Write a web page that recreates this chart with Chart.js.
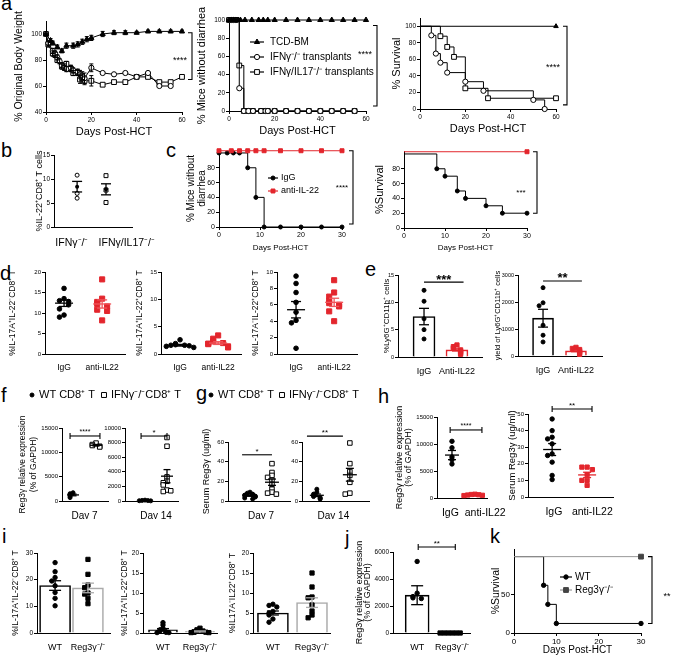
<!DOCTYPE html>
<html>
<head>
<meta charset="utf-8">
<title>IL-22 / Reg3γ figure</title>
<script src="https://cdn.jsdelivr.net/npm/chart.js@4.4.1/dist/chart.umd.min.js"></script>
<style>
  body { margin: 0; width: 675px; height: 657px; position: relative; overflow: hidden; background: #fff;
         font-family: "Liberation Sans", Arial, sans-serif; }
  canvas { position: absolute; }
  .tag { position: absolute; font-size: 20px; line-height: 20px; color: #000; }
</style>
</head>
<body>
<div class="tag" style="left:1px;top:-7px">a</div>
<div class="tag" style="left:1px;top:140px">b</div>
<div class="tag" style="left:166px;top:140px">c</div>
<div class="tag" style="left:0px;top:263px">d</div>
<div class="tag" style="left:365px;top:259px">e</div>
<div class="tag" style="left:1px;top:385px">f</div>
<div class="tag" style="left:196px;top:383px">g</div>
<div class="tag" style="left:378px;top:386px">h</div>
<div class="tag" style="left:2px;top:526px">i</div>
<div class="tag" style="left:345px;top:528px">j</div>
<div class="tag" style="left:490px;top:526px">k</div>
<script>
// ---------- values ----------
// a: body weight
const bwDaysTcd = [0, 2, 3, 5, 7, 9, 12, 14, 16, 18, 20, 25, 30, 35, 40, 45, 50, 55, 60];
const bwTcd     = [100, 95, 93, 90, 87, 91, 91, 92, 94, 96, 97, 100, 101, 101, 101, 102, 102, 102, 102];
const bwTcdErr  = [0, 1.5, 1.5, 1.5, 1.5, 2, 2, 2, 2, 2, 2, 2, 1.5, 1.5, 1, 1, 1, 1, 1];
const bwDaysIfn = [0, 1, 3, 4, 5, 6, 7, 8, 9, 11, 12, 14, 15, 16, 17, 20, 25, 30, 35, 40, 45, 50, 55];
const bwIfn     = [100, 93, 87, 85, 82, 79, 76, 74, 73, 74, 72, 71, 69, 68, 66, 74, 70, 69, 70, 67, 70, 60, 60];
const bwIfnErr  = [0, 1.5, 2, 2, 2, 2, 2, 2, 2, 2, 2, 2, 3, 3, 4, 3, 0, 0, 0, 0, 0, 0, 0];
const bwDaysDko = [0, 1, 3, 4, 5, 7, 8, 9, 11, 12, 14, 15, 16, 17, 20, 25, 30, 35, 40, 45, 50, 55, 60];
const bwDko     = [100, 92, 85, 84, 80, 75, 75, 77, 73, 70, 70, 65, 66, 64, 64, 61, 63, 63, 67, 67, 63, 63, 67];
const bwDkoErr  = [0, 2, 2, 2, 2, 2, 2, 2, 2, 2, 2, 3, 3, 3, 4, 0, 0, 0, 0, 0, 0, 0, 0];
// a: mice without diarrhea
const dDaysTcd = [0, 1, 2, 3, 4, 5, 7, 10, 13, 15, 17, 20, 25, 30, 35, 40, 45, 50, 55, 60];
const dTcd     = [100, 100, 100, 100, 100, 100, 100, 100, 100, 100, 100, 100, 100, 100, 100, 100, 100, 100, 100, 100];
const dDaysIfn = [0, 1, 2, 3, 4.5, 6.5, 8.5, 10.5, 14, 16, 17, 20, 25, 30, 35, 40, 45, 50, 55];
const dIfn     = [100, 100, 100, 100, 25, 0, 0, 0, 0, 0, 0, 0, 0, 0, 0, 0, 0, 0, 0];
const dDaysDko = [0, 1, 2, 3, 4.5, 6.5, 8.5, 10.5, 14, 16, 17, 20, 25, 30, 35, 40, 45, 50, 55];
const dDko     = [100, 100, 100, 100, 50, 0, 0, 0, 0, 0, 0, 0, 0, 0, 0, 0, 0, 0, 0];
// a: survival
const sDaysTcd = [0, 60];
const sTcd     = [100, 100];
const sDaysIfn = [0, 5, 7, 9, 12, 20, 28, 50, 55];
const sIfn     = [100, 89, 67, 56, 44, 33, 22, 11, 0];
const sDaysDko = [0, 9, 12, 15, 20, 30, 60];
const sDko     = [100, 88, 75, 63, 25, 13, 13];
// b
const bIfn  = [10.8, 7.0, 6.0];
const bDko  = [10.7, 7.7, 5.1];
const bMean = [8.4, 7.85];
const bSem  = [1.1, 1.15];
// c
const cDaysIgG  = [0, 2, 3.5, 5, 7, 9, 11, 15, 20, 25, 30];
const cIgG      = [100, 100, 100, 100, 80, 40, 0, 0, 0, 0, 0];
const cDaysAnti = [0, 3, 5, 7, 9, 11, 15, 20, 25, 30];
const cAnti     = [103, 103, 103, 103, 103, 103, 103, 103, 103, 103];
const c2DaysIgG  = [0, 8, 10, 13, 15, 20, 24, 30];
const c2IgG      = [100, 80, 70, 50, 40, 30, 20, 20];
const c2DaysAnti = [0, 30];
const c2Anti     = [103, 103];
// d
const d1IgG  = [16.0, 13.5, 13.0, 12.8, 12.0, 11.0, 9.5, 9.0];
const d1Anti = [18.2, 13.5, 12.7, 12.2, 11.6, 10.8, 10.5, 8.2];
const d1Mean = [12.4, 12.2], d1Sem = [0.8, 1.0];
const d2IgG  = [2.6, 1.9, 1.7, 1.6, 1.6, 1.5, 1.4, 1.2];
const d2Anti = [3.4, 2.8, 2.3, 2.0, 1.9, 1.8, 1.4, 1.2];
const d2Mean = [1.6, 2.0], d2Sem = [0.15, 0.25];
const d3IgG  = [9.5, 8.6, 7.5, 6.3, 5.1, 4.1, 3.8, 0.7];
const d3Anti = [9.0, 7.5, 7.0, 6.5, 6.2, 6.0, 5.8, 5.2, 4.0];
const d3Mean = [5.4, 6.3], d3Sem = [1.0, 0.5];
// e
const e1IgG  = [12.2, 10.2, 7.0, 5.0, 3.3];
const e1Anti = [2.2, 1.9, 1.6, 1.3, 1.1, 0.9, 0.7, 0.5];
const e1Mean = [7.4, 1.3], e1Sem = [1.5, 0.2];
const e2IgG  = [2530, 1970, 1860, 1140, 770, 520];
const e2Anti = [320, 280, 240, 190, 150, 110, 60];
const e2Mean = [1400, 190], e2Sem = [330, 30];
// f
const f7Wt  = [1700, 1500, 1300, 1000, 700];
const f7Ko  = [11900, 11600, 11400, 11250, 11100];
const f7Mean = [1250, 11450], f7Sem = [180, 160];
const f14Wt = [120, 80, 60, 40, 20];
const f14Ko = [8700, 7500, 3300, 2700, 2500, 2200, 1500, 1300, 1400];
const f14Mean = [60, 3400], f14Sem = [20, 900];
// g
const g7Wt  = [9, 8, 7, 6.5, 6, 5.5, 5, 4.5, 4, 3, 2];
const g7Ko  = [38, 29, 26, 24, 21, 17, 12, 9, 8, 7];
const g7Mean = [5.5, 19.1], g7Sem = [0.7, 3.2];
const g14Wt = [12, 9, 7, 5.5, 4.5, 3.5, 2.5, 2];
const g14Ko = [59, 38, 30, 26, 19, 8, 7];
const g14Mean = [5.8, 26.7], g14Sem = [1.3, 6.5];
// h
const h1IgG  = [10500, 9300, 7600, 7100, 6300];
const h1Anti = [700, 650, 600, 550, 500, 450];
const h1Mean = [7950, 580], h1Sem = [850, 40];
const h2IgG  = [47, 40, 36, 35, 32, 26, 25, 21, 13, 10.5];
const h2Anti = [18, 18, 16.5, 13.5, 10, 10, 7];
const h2Mean = [28.6, 13.3], h2Sem = [3.6, 1.6];
// i
const i1Wt = [26.4, 23, 20.8, 19.5, 17.7, 15.2, 13, 10.2];
const i1Ko = [27.6, 22, 18, 17, 15, 14.6, 13, 11];
const i1Mean = [17.8, 16.9], i1Sem = [1.8, 1.8];
const i2Wt = [2.6, 2.0, 1.2, 0.8, 0.5, 0.3, 0.2, 0.1, 0.1];
const i2Ko = [1.2, 0.8, 0.6, 0.5, 0.3, 0.2, 0.2, 0.1, 0.1];
const i2Mean = [0.8, 0.4], i2Sem = [0.3, 0.12];
const i3Wt = [7.2, 6.9, 6.5, 5.4, 5.0, 4.5, 3.5, 2.7];
const i3Ko = [15, 11.5, 9, 8.8, 7, 5.5, 4.5, 3.8];
const i3Mean = [5.0, 7.6], i3Sem = [0.5, 1.2];
// j
const jWt = [5300, 2950, 2700, 2600, 2550];
const jKo = [0, 0, 0, 0, 0, 0];
const jMean = [2800, 0], jSem = [700, 0];
// k
const kDaysWt = [0, 7, 8, 10, 30];
const kWt     = [100, 62.5, 37.5, 12.5, 12.5];
const kDaysKo = [0, 30];
const kKo     = [100, 100];

// ---------- helpers ----------
const FONT = '"Liberation Sans", Arial, Helvetica, sans-serif';
const RED = '#e3262d';
Chart.defaults.font.family = FONT;
Chart.defaults.color = '#000';
Chart.defaults.animation = false;
Chart.defaults.responsive = false;
Chart.defaults.plugins.legend.display = false;
Chart.defaults.plugins.tooltip.enabled = false;

const pts = (xs, ys) => xs.map((x, i) => ({x: x, y: ys[i]}));

// spread points with close values sideways (simple beeswarm)
function swarm(vals, cx, step, thr) {
  const out = [];
  vals.forEach(v => {
    const k = out.filter(p => Math.abs(p.y - v) < thr).length;
    const off = k === 0 ? 0 : (k % 2 ? -1 : 1) * Math.ceil(k / 2);
    out.push({x: cx + off * step, y: v});
  });
  return out;
}

function yAxis(min, max, step, o) {
  return {
    type: 'linear', position: 'left', min: min, max: max,
    border: {display: true, color: '#000', width: 1},
    grid: {display: true, drawOnChartArea: false, drawTicks: true, tickLength: 3, color: '#000'},
    ticks: {stepSize: step, font: {size: o.tf || 7}, padding: 1, callback: v => String(v)},
    title: {display: !!o.title, text: o.title, font: {size: o.fs || 10, lineHeight: o.lh || 1.2}, padding: 0},
    afterBuildTicks: s => { if (o.top != null) s.ticks = s.ticks.filter(t => t.value <= o.top); }
  };
}

function xDays(min, max, step, o) {
  return {
    type: 'linear', position: 'bottom', min: min, max: max, offset: false,
    border: {display: true, color: '#000', width: 1},
    grid: {display: true, drawOnChartArea: false, drawTicks: true, tickLength: 3, color: '#000', offset: false},
    ticks: {stepSize: step, font: {size: o.tf || 7}, padding: 1, maxRotation: 0, autoSkip: false, callback: v => String(v)},
    title: {display: true, text: o.title, font: {size: o.fs || 10}, padding: 0}
  };
}

// labels[i].v is where the label sits on the x scale
function xGroups(min, max, labels, o) {
  return {
    type: 'linear', position: 'bottom', min: min, max: max, offset: false,
    border: {display: true, color: '#000', width: 1},
    grid: {display: false, offset: false},
    ticks: {autoSkip: false, maxRotation: 0, font: {size: o.lf || 9}, padding: o.lp || 1,
            callback: (v, i) => labels[i] ? labels[i].t : ''},
    afterBuildTicks: s => { s.ticks = labels.map(l => ({value: l.v})); }
  };
}

function curve(xs, ys, o) {
  const r = o.r || 2.5, n = xs.length;
  let rad = r;
  if (o.marks === 'skipFirst') rad = c => c.dataIndex === 0 ? 0 : r;
  if (o.marks === 'last') rad = c => c.dataIndex === n - 1 ? r : 0;
  return {
    type: 'scatter', data: pts(xs, ys), showLine: true, stepped: o.step ? 'before' : false,
    borderColor: o.color || '#000', borderWidth: o.lw || 1,
    pointStyle: o.style || 'circle', pointRadius: rad,
    pointBackgroundColor: o.fill || o.pc || o.color || '#000',
    pointBorderColor: o.pc || o.color || '#000', pointBorderWidth: 1,
    clip: false, err: o.err
  };
}

function dots(vals, cx, o) {
  const col = o.color || '#000';
  return {
    type: 'scatter', data: swarm(vals, cx, o.step, o.thr), showLine: false,
    pointStyle: o.style || 'circle', pointRadius: o.r || 2.3,
    pointBackgroundColor: o.fill || col, pointBorderColor: col, pointBorderWidth: 1, clip: false
  };
}

function bars(means, colors, thick) {
  return {
    type: 'bar', data: means.map((m, i) => ({x: i + 1, y: m})), order: 5,
    backgroundColor: '#fff', borderColor: colors, borderWidth: 1.6, barThickness: thick
  };
}

function summ(means, sems, colors, hw, cw, extra) {
  return means.map((m, i) => Object.assign({x: i + 1, m: m, e: sems[i], color: colors[i], hw: hw, cw: cw}, extra || {}));
}

// ---------- decoration plugin: error bars, significance marks, keys ----------
const DECO = {};
function seg(ctx, x1, y1, x2, y2) { ctx.beginPath(); ctx.moveTo(x1, y1); ctx.lineTo(x2, y2); ctx.stroke(); }
function txt(ctx, t, x, y, size, align, bold) {
  ctx.font = (bold ? 'bold ' : '') + size + 'px ' + FONT;
  ctx.fillStyle = '#000'; ctx.textAlign = align || 'center'; ctx.textBaseline = 'middle';
  ctx.fillText(t, x, y);
}
function mark(ctx, style, x, y, r, fill, stroke) {
  ctx.beginPath();
  if (style === 'rect') {
    const s = r * Math.SQRT1_2; ctx.rect(x - s, y - s, 2 * s, 2 * s);
  } else if (style === 'triangle') {
    for (let k = 0; k < 3; k++) {
      const a = k * 2 * Math.PI / 3;
      if (k === 0) ctx.moveTo(x + Math.sin(a) * r, y - Math.cos(a) * r);
      else ctx.lineTo(x + Math.sin(a) * r, y - Math.cos(a) * r);
    }
    ctx.closePath();
  } else {
    ctx.arc(x, y, r, 0, Math.PI * 2);
  }
  ctx.fillStyle = fill; ctx.fill();
  ctx.strokeStyle = stroke; ctx.lineWidth = 1; ctx.stroke();
}

Chart.register({
  id: 'deco',
  afterDatasetsDraw(chart) {
    const ctx = chart.ctx, a = chart.chartArea, xs = chart.scales.x, ys = chart.scales.y;
    const d = DECO[chart.canvas.id] || {};
    ctx.save();
    chart.data.datasets.forEach(ds => {
      if (!ds.err) return;
      ctx.strokeStyle = ds.borderColor; ctx.lineWidth = 1;
      ds.data.forEach((p, i) => {
        const e = ds.err[i]; if (!e) return;
        const px = xs.getPixelForValue(p.x), t = ys.getPixelForValue(p.y + e), b = ys.getPixelForValue(p.y - e);
        seg(ctx, px, t, px, b); seg(ctx, px - 2, t, px + 2, t); seg(ctx, px - 2, b, px + 2, b);
      });
    });
    (d.summ || []).forEach(s => {
      ctx.strokeStyle = s.color; ctx.lineWidth = s.lw || 1.3;
      const cx = xs.getPixelForValue(s.x), ym = ys.getPixelForValue(s.m);
      const yt = ys.getPixelForValue(s.m + s.e), yb = ys.getPixelForValue(Math.max(0, s.m - s.e));
      if (s.hw) seg(ctx, cx - s.hw, ym, cx + s.hw, ym);
      if (s.e) {
        seg(ctx, cx, yt, cx, yb);
        seg(ctx, cx - s.cw, yt, cx + s.cw, yt);
        seg(ctx, cx - s.cw, yb, cx + s.cw, yb);
      }
      if (s.dot) { ctx.fillStyle = s.color; ctx.beginPath(); ctx.arc(cx, ym, s.dot, 0, Math.PI * 2); ctx.fill(); }
    });
    (d.sig || []).forEach(s => {
      ctx.strokeStyle = '#000'; ctx.lineWidth = 1.1;
      const fs = s.fs || 9;
      if (s.kind === 'bar') {
        const x1 = xs.getPixelForValue(s.x1), x2 = xs.getPixelForValue(s.x2), y = ys.getPixelForValue(s.y);
        seg(ctx, x1, y, x2, y);
        if (s.tick) { seg(ctx, x1, y - s.tick, x1, y + s.tick); seg(ctx, x2, y - s.tick, x2, y + s.tick); }
        txt(ctx, s.text, (x1 + x2) / 2, y - (s.tdy || 5) + 0.22 * fs, fs, 'center', s.bold);
      } else {
        const x = a.right + s.dx, y1 = ys.getPixelForValue(s.y1), y2 = ys.getPixelForValue(s.y2);
        ctx.beginPath(); ctx.moveTo(x - 4, y1); ctx.lineTo(x, y1); ctx.lineTo(x, y2); ctx.lineTo(x - 4, y2); ctx.stroke();
        txt(ctx, s.text, a.right + s.tx, ys.getPixelForValue(s.ty) + 0.22 * fs, fs, 'center', s.bold);
      }
    });
    (d.keys || []).forEach(k => {
      const x = a.left + k.x, y = a.top + k.y;
      if (k.line) { ctx.strokeStyle = k.lc || k.color; ctx.lineWidth = 1.2; seg(ctx, x - k.line, y, x + k.line, y); }
      mark(ctx, k.style, x, y, k.r, k.fill, k.color);
      txt(ctx, k.text, x + k.tx, y, k.fs, 'left');
    });
    ctx.restore();
  }
});

let nPanel = 0;
function put(box, datasets, x, y, deco) {
  const c = document.createElement('canvas');
  c.id = 'panel' + (nPanel++);
  const w = box.r - box.l + box.ml + box.mr, h = box.b - box.t + box.mt + box.mb;
  c.width = w; c.height = h;
  c.style.left = (box.l - box.ml) + 'px'; c.style.top = (box.t - box.mt) + 'px';
  c.style.width = w + 'px'; c.style.height = h + 'px';
  document.body.appendChild(c);
  DECO[c.id] = deco || {};
  x.afterFit = s => { s.height = box.mb; };
  y.afterFit = s => { s.width = box.ml; };
  return new Chart(c, {
    type: 'scatter',
    data: {datasets: datasets},
    options: {layout: {padding: {left: 0, top: box.mt, right: box.mr, bottom: 0}}, scales: {x: x, y: y}}
  });
}

// ---------- a ----------
put({l: 46, t: 21, r: 182, b: 112, ml: 33, mt: 20, mr: 20, mb: 27},
  [curve(bwDaysTcd, bwTcd, {style: 'triangle', r: 3, err: bwTcdErr}),
   curve(bwDaysIfn, bwIfn, {style: 'circle', r: 2.6, fill: '#fff', err: bwIfnErr}),
   curve(bwDaysDko, bwDko, {style: 'rect', r: 3.4, fill: '#fff', err: bwDkoErr})],
  xDays(0, 60, 20, {title: 'Days Post-HCT', fs: 11, tf: 6.5}),
  yAxis(40, 110, 20, {title: '% Original Body Weight', fs: 10.5, tf: 6.5, top: 100}),
  {sig: [{kind: 'rb', dx: 10, y1: 101, y2: 65, tx: -2, ty: 81.5, text: '****', fs: 9}]});

put({l: 229, t: 20, r: 366, b: 111, ml: 34, mt: 19, mr: 20, mb: 27},
  [curve(dDaysTcd, dTcd, {style: 'triangle', r: 3}),
   curve(dDaysIfn, dIfn, {style: 'circle', r: 2.6, fill: '#fff', step: true}),
   curve(dDaysDko, dDko, {style: 'rect', r: 3.4, fill: '#fff', step: true})],
  xDays(0, 60, 20, {title: 'Days Post-HCT', fs: 11, tf: 6.5}),
  yAxis(0, 100, 20, {title: '% Mice without diarrhea', fs: 11, tf: 6.5}),
  {sig: [{kind: 'rb', dx: 11, y1: 94, y2: 5.5, tx: -1, ty: 63.7, text: '****', fs: 9}],
   keys: [{x: 28, y: 22, style: 'triangle', r: 3, fill: '#000', color: '#000', line: 7, text: 'TCD-BM', tx: 13, fs: 10},
          {x: 28, y: 37, style: 'circle', r: 2.6, fill: '#fff', color: '#000', line: 7, text: 'IFNγ⁻/⁻ transplants', tx: 13, fs: 10},
          {x: 28, y: 52, style: 'rect', r: 3.4, fill: '#fff', color: '#000', line: 7, text: 'IFNγ/IL17⁻/⁻ transplants', tx: 13, fs: 10}]});

put({l: 420, t: 18, r: 556, b: 109, ml: 30, mt: 10, mr: 20, mb: 27},
  [curve(sDaysTcd, sTcd, {style: 'triangle', r: 2.6, step: true, marks: 'last'}),
   curve(sDaysIfn, sIfn, {style: 'circle', r: 2.6, fill: '#fff', step: true, marks: 'skipFirst'}),
   curve(sDaysDko, sDko, {style: 'rect', r: 3.4, fill: '#fff', step: true, marks: 'skipFirst'})],
  xDays(0, 60, 20, {title: 'Days Post-HCT', fs: 11, tf: 6.5}),
  yAxis(0, 110, 20, {title: '% Survival', fs: 11, tf: 6.5, top: 100}),
  {sig: [{kind: 'rb', dx: 11, y1: 100, y2: 5, tx: -3, ty: 53, text: '****', fs: 9}]});

// ---------- b ----------
put({l: 54, t: 155, r: 132, b: 227, ml: 20, mt: 6, mr: 32, mb: 23},
  [dots(bIfn, 1, {style: 'circle', r: 2, fill: '#fff', step: 0.1, thr: 0.5}),
   dots(bDko, 2, {style: 'rect', r: 2.8, fill: '#fff', step: 0.1, thr: 0.5})],
  xGroups(0.2, 2.9, [{v: 0.82, t: 'IFNγ⁻/⁻'}, {v: 2.72, t: 'IFNγ/IL17⁻/⁻'}], {lf: 10.5, lp: 2}),
  yAxis(0, 15, 5, {title: '%IL-22⁺CD8⁺ T cells', fs: 9, tf: 6.5}),
  {summ: summ(bMean, bSem, ['#000', '#000'], 0, 5, {dot: 2})});

// ---------- c ----------
put({l: 219, t: 150, r: 342, b: 227, ml: 33, mt: 6, mr: 22, mb: 26},
  [curve(cDaysAnti, cAnti, {color: RED, style: 'rect', r: 2.8, step: true}),
   curve(cDaysIgG, cIgG, {style: 'circle', r: 2, step: true})],
  xDays(0, 30, 10, {title: 'Days Post-HCT', fs: 8, tf: 7}),
  yAxis(0, 104, 20, {title: ['% Mice without', 'diarrhea'], fs: 10, lh: 1.1, tf: 7, top: 100}),
  {sig: [{kind: 'rb', dx: 11, y1: 103, y2: 4, tx: 0, ty: 55, text: '****', fs: 8}],
   keys: [{x: 54, y: 28, style: 'circle', r: 2, fill: '#000', color: '#000', line: 5, text: 'IgG', tx: 8, fs: 9},
          {x: 54, y: 41, style: 'rect', r: 2.8, fill: RED, color: RED, line: 5, text: 'anti-IL-22', tx: 8, fs: 9}]});

put({l: 404, t: 151, r: 527, b: 228, ml: 31, mt: 6, mr: 20, mb: 25},
  [curve(c2DaysAnti, c2Anti, {color: RED, style: 'rect', r: 2.8, step: true, marks: 'last'}),
   curve(c2DaysIgG, c2IgG, {style: 'circle', r: 2, step: true, marks: 'skipFirst'})],
  xDays(0, 30, 10, {title: 'Days Post-HCT', fs: 8, tf: 7}),
  yAxis(0, 104, 20, {title: '%Survival', fs: 11, tf: 7, top: 100}),
  {sig: [{kind: 'rb', dx: 10, y1: 103, y2: 20, tx: -6, ty: 50, text: '***', fs: 8}]});

// ---------- d ----------
const igLabels = [{v: 1, t: 'IgG'}, {v: 2, t: 'anti-IL22'}];
const dBox = (l, ml) => ({l: l, t: 272, r: l + 80, b: 354, ml: ml, mt: 5, mr: 12, mb: 22});
put(dBox(45, 37),
  [dots(d1IgG, 1, {r: 2.3, step: 0.12, thr: 1.2}),
   dots(d1Anti, 2, {style: 'rect', color: RED, r: 3.6, step: 0.13, thr: 1.2})],
  xGroups(0.5, 2.6, igLabels, {lf: 8.5}),
  yAxis(0, 20, 5, {title: '%IL-17A⁺IL-22⁻CD8⁺ T', fs: 8.5, tf: 6}),
  {summ: summ(d1Mean, d1Sem, ['#000', '#f0565b'], 9, 5)});
put(dBox(161, 26),
  [dots(d2IgG, 1, {r: 2.3, step: 0.12, thr: 0.9}),
   dots(d2Anti, 2, {style: 'rect', color: RED, r: 3.6, step: 0.13, thr: 0.9})],
  xGroups(0.5, 2.6, igLabels, {lf: 8.5}),
  yAxis(0, 15, 5, {title: '%IL-17A⁺IL-22⁺CD8⁺ T', fs: 8.5, tf: 6}),
  {summ: summ(d2Mean, d2Sem, ['#000', '#f0565b'], 9, 5)});
put(dBox(277, 26),
  [dots(d3IgG, 1, {r: 2.3, step: 0.12, thr: 0.6}),
   dots(d3Anti, 2, {style: 'rect', color: RED, r: 3.6, step: 0.13, thr: 0.6})],
  xGroups(0.5, 2.6, igLabels, {lf: 8.5}),
  yAxis(0, 10, 2, {title: '%IL-17A⁻IL-22⁺CD8⁺ T', fs: 8.5, tf: 6}),
  {summ: summ(d3Mean, d3Sem, ['#000', '#f0565b'], 9, 5)});

// ---------- e ----------
const antiLabels = [{v: 1, t: 'IgG'}, {v: 2, t: 'Anti-IL22'}];
put({l: 398, t: 275, r: 482, b: 357, ml: 16, mt: 8, mr: 12, mb: 22},
  [bars(e1Mean, ['#000', RED], 22),
   dots(e1IgG, 1, {r: 2, step: 0.12, thr: 0.8}),
   dots(e1Anti, 2, {style: 'rect', color: RED, r: 3, step: 0.11, thr: 0.6})],
  xGroups(0.21, 2.76, antiLabels, {lf: 9}),
  yAxis(0, 15, 5, {title: '%Ly6G⁺CD11b⁺ cells', fs: 8, tf: 5.5}),
  {summ: summ(e1Mean, e1Sem, ['#000', RED], 0, 5),
   sig: [{kind: 'bar', x1: 1, x2: 2.2, y: 13.7, text: '***', fs: 13, bold: true, tdy: 5}]});
put({l: 518, t: 275, r: 602, b: 356, ml: 25, mt: 8, mr: 12, mb: 22},
  [bars(e2Mean, ['#000', RED], 21),
   dots(e2IgG, 1, {r: 2, step: 0.12, thr: 150}),
   dots(e2Anti, 2, {style: 'rect', color: RED, r: 3, step: 0.11, thr: 120})],
  xGroups(0.24, 2.79, antiLabels, {lf: 9}),
  yAxis(0, 3000, 1000, {title: 'yield of Ly6G⁺CD11b⁺ cells', fs: 7.5, tf: 5.5}),
  {summ: summ(e2Mean, e2Sem, ['#000', RED], 0, 5),
   sig: [{kind: 'bar', x1: 1, x2: 2.18, y: 2780, text: '**', fs: 13, bold: true, tdy: 5}]});

// ---------- f ----------
put({l: 62, t: 428, r: 108, b: 501, ml: 44, mt: 40, mr: 112, mb: 18},
  [dots(f7Wt, 1, {r: 2, step: 0.13, thr: 400}),
   dots(f7Ko, 2, {style: 'rect', fill: '#fff', r: 3.2, step: 0.16, thr: 400})],
  xGroups(0.52, 2.52, [{v: 1.5, t: 'Day 7'}], {lf: 10, lp: 1}),
  yAxis(0, 15000, 5000, {title: ['Reg3γ relative expression', '(% of GAPDH)'], fs: 8.5, lh: 1.2, tf: 6}),
  {summ: summ(f7Mean, f7Sem, ['#000', '#000'], 6, 3.5),
   sig: [{kind: 'bar', x1: 0.87, x2: 2.17, y: 13360, tick: 3, text: '****', fs: 7, tdy: 5}],
   keys: [{x: -30, y: -33, style: 'circle', r: 2, fill: '#000', color: '#000', text: 'WT CD8⁺ T', tx: 7, fs: 11},
          {x: 42, y: -33, style: 'rect', r: 3.5, fill: '#fff', color: '#000', text: 'IFNγ⁻/⁻CD8⁺ T', tx: 7, fs: 11}]});
put({l: 125, t: 428, r: 178, b: 501, ml: 28, mt: 10, mr: 12, mb: 18},
  [dots(f14Wt, 1, {r: 2, step: 0.13, thr: 300}),
   dots(f14Ko, 2, {style: 'rect', fill: '#fff', r: 3.2, step: 0.17, thr: 500})],
  xGroups(0.09, 2.5, [{v: 1.5, t: 'Day 14'}], {lf: 10, lp: 1}),
  yAxis(0, 10000, 2000, {tf: 6}),
  {summ: summ(f14Mean, f14Sem, ['#000', '#000'], 6, 3.5),
   sig: [{kind: 'bar', x1: 0.82, x2: 2.0, y: 8900, tick: 3, text: '*', fs: 8, tdy: 5}]});

// ---------- g ----------
put({l: 228, t: 442, r: 290, b: 501, ml: 27, mt: 56, mr: 90, mb: 18},
  [dots(g7Wt, 1, {r: 2, step: 0.12, thr: 2.5}),
   dots(g7Ko, 2, {style: 'rect', fill: '#fff', r: 3.2, step: 0.2, thr: 3})],
  xGroups(0, 2.82, [{v: 1.5, t: 'Day 7'}], {lf: 10, lp: 1}),
  yAxis(0, 60, 20, {title: 'Serum Reg3γ (ug/ml)', fs: 9, tf: 6}),
  {summ: summ(g7Mean, g7Sem, ['#000', '#000'], 7, 4),
   sig: [{kind: 'bar', x1: 0.64, x2: 2.0, y: 47, text: '*', fs: 8, tdy: 5}],
   keys: [{x: -17, y: -47, style: 'circle', r: 2, fill: '#000', color: '#000', text: 'WT CD8⁺ T', tx: 7, fs: 11},
          {x: 54, y: -47, style: 'rect', r: 3.5, fill: '#fff', color: '#000', text: 'IFNγ⁻/⁻CD8⁺ T', tx: 7, fs: 11}]});
put({l: 302, t: 442, r: 369, b: 501, ml: 22, mt: 16, mr: 10, mb: 18},
  [dots(g14Wt, 1, {r: 2, step: 0.1, thr: 2.5}),
   dots(g14Ko, 2, {style: 'rect', fill: '#fff', r: 3.2, step: 0.14, thr: 3})],
  xGroups(0.55, 2.58, [{v: 1.5, t: 'Day 14'}], {lf: 10, lp: 1}),
  yAxis(0, 60, 20, {tf: 6}),
  {summ: summ(g14Mean, g14Sem, ['#000', '#000'], 7, 4),
   sig: [{kind: 'bar', x1: 0.7, x2: 1.79, y: 66, text: '**', fs: 8, tdy: 5}]});

// ---------- h ----------
put({l: 437, t: 417, r: 487, b: 498, ml: 42, mt: 16, mr: 22, mb: 20},
  [dots(h1IgG, 1, {r: 2.2, step: 0.15, thr: 500}),
   dots(h1Anti, 2, {style: 'rect', color: RED, r: 3, step: 0.16, thr: 300})],
  xGroups(0.35, 2.52, [{v: 0.93, t: 'IgG'}, {v: 2.44, t: 'anti-IL22'}], {lf: 10.5, lp: 1}),
  yAxis(0, 15000, 5000, {title: ['Reg3γ relative expression', '(% of GAPDH)'], fs: 9, lh: 1.0, tf: 6}),
  {summ: summ(h1Mean, h1Sem, ['#000', RED], 7, 4),
   sig: [{kind: 'bar', x1: 0.92, x2: 2.3, y: 12600, tick: 3, text: '****', fs: 7, tdy: 5}]});
put({l: 528, t: 414, r: 613, b: 497, ml: 21, mt: 16, mr: 12, mb: 20},
  [dots(h2IgG, 1, {r: 2.2, step: 0.13, thr: 2}),
   dots(h2Anti, 2, {style: 'rect', color: RED, r: 3, step: 0.15, thr: 2})],
  xGroups(0.31, 2.74, [{v: 1.05, t: 'IgG'}, {v: 2.15, t: 'anti-IL22'}], {lf: 10.5, lp: 1}),
  yAxis(0, 50, 10, {title: 'Serum Reg3γ (ug/ml)', fs: 9.5, tf: 6}),
  {summ: summ(h2Mean, h2Sem, ['#000', RED], 9, 4),
   sig: [{kind: 'bar', x1: 1, x2: 2.14, y: 53, tick: 3, text: '**', fs: 8, tdy: 5}]});

// ---------- i ----------
const koLabels = [{v: 1, t: 'WT'}, {v: 2, t: 'Reg3γ⁻/⁻'}];
const iBox = (l, r, ml) => ({l: l, t: 553, r: r, b: 633, ml: ml, mt: 6, mr: 14, mb: 22});
put(iBox(37, 110, 26),
  [bars(i1Mean, ['#000', '#aaa'], 31),
   dots(i1Wt, 1, {r: 2.2, step: 0.1, thr: 1.5}),
   dots(i1Ko, 2, {style: 'rect', r: 3, step: 0.1, thr: 1.5})],
  xGroups(0.45, 2.67, koLabels, {lf: 9}),
  yAxis(0, 30, 10, {title: '%IL-17A⁺IL-22⁻CD8⁺ T', fs: 8.5, tf: 6.5}),
  {summ: summ(i1Mean, i1Sem, ['#000', '#aaa'], 0, 6)});
put(iBox(143, 217, 23),
  [bars(i2Mean, ['#000', '#aaa'], 29),
   dots(i2Wt, 1, {r: 2.2, step: 0.08, thr: 0.6}),
   dots(i2Ko, 2, {style: 'rect', r: 3, step: 0.08, thr: 0.6})],
  xGroups(0.46, 2.46, koLabels, {lf: 9}),
  yAxis(0, 20, 5, {title: '%IL-17A⁺IL-22⁺CD8⁺ T', fs: 8.5, tf: 6.5}),
  {summ: summ(i2Mean, i2Sem, ['#000', '#aaa'], 0, 6)});
put(iBox(253, 330, 25),
  [bars(i3Mean, ['#000', '#aaa'], 31),
   dots(i3Wt, 1, {r: 2.2, step: 0.1, thr: 0.8}),
   dots(i3Ko, 2, {style: 'rect', r: 3, step: 0.1, thr: 0.8})],
  xGroups(0.49, 2.46, koLabels, {lf: 9}),
  yAxis(0, 20, 5, {title: '%IL17A⁻IL22⁺CD8⁺ T', fs: 8.5, tf: 6.5}),
  {summ: summ(i3Mean, i3Sem, ['#000', '#aaa'], 0, 6)});

// ---------- j ----------
put({l: 393, t: 552, r: 470, b: 633, ml: 38, mt: 14, mr: 12, mb: 22},
  [bars(jMean, ['#000', '#aaa'], 24),
   dots(jWt, 1, {r: 2.2, step: 0.12, thr: 300}),
   dots(jKo, 2, {style: 'rect', r: 3, step: 0.115, thr: 300})],
  xGroups(0.31, 2.51, koLabels, {lf: 9}),
  yAxis(0, 6000, 2000, {title: ['Reg3γ relative expression', '(% of GAPDH)'], fs: 9, lh: 0.95, tf: 6.5}),
  {summ: summ(jMean, jSem, ['#000', '#aaa'], 0, 6),
   sig: [{kind: 'bar', x1: 1.03, x2: 2.09, y: 6370, tick: 3, text: '**', fs: 8, tdy: 5}]});

// ---------- k ----------
put({l: 514, t: 549, r: 641, b: 633, ml: 24, mt: 6, mr: 34, mb: 23},
  [curve(kDaysKo, kKo, {color: '#999', pc: '#444', style: 'rect', r: 3.4, step: true, marks: 'last'}),
   curve(kDaysWt, kWt, {style: 'circle', r: 2.2, step: true, marks: 'skipFirst'})],
  xDays(0, 30, 10, {title: 'Days Post-HCT', fs: 10, tf: 8}),
  yAxis(0, 110, 50, {title: '%Survival', fs: 10.5, tf: 8, top: 100}),
  {sig: [{kind: 'rb', dx: 11, y1: 100, y2: 12.5, tx: 26, ty: 51, text: '**', fs: 9}],
   keys: [{x: 52, y: 28, style: 'circle', r: 2.2, fill: '#000', color: '#000', line: 6, text: 'WT', tx: 9, fs: 10},
          {x: 52, y: 41, style: 'rect', r: 3.4, fill: '#444', color: '#444', lc: '#999', line: 6, text: 'Reg3γ⁻/⁻', tx: 9, fs: 10}]});
</script>
</body>
</html>
